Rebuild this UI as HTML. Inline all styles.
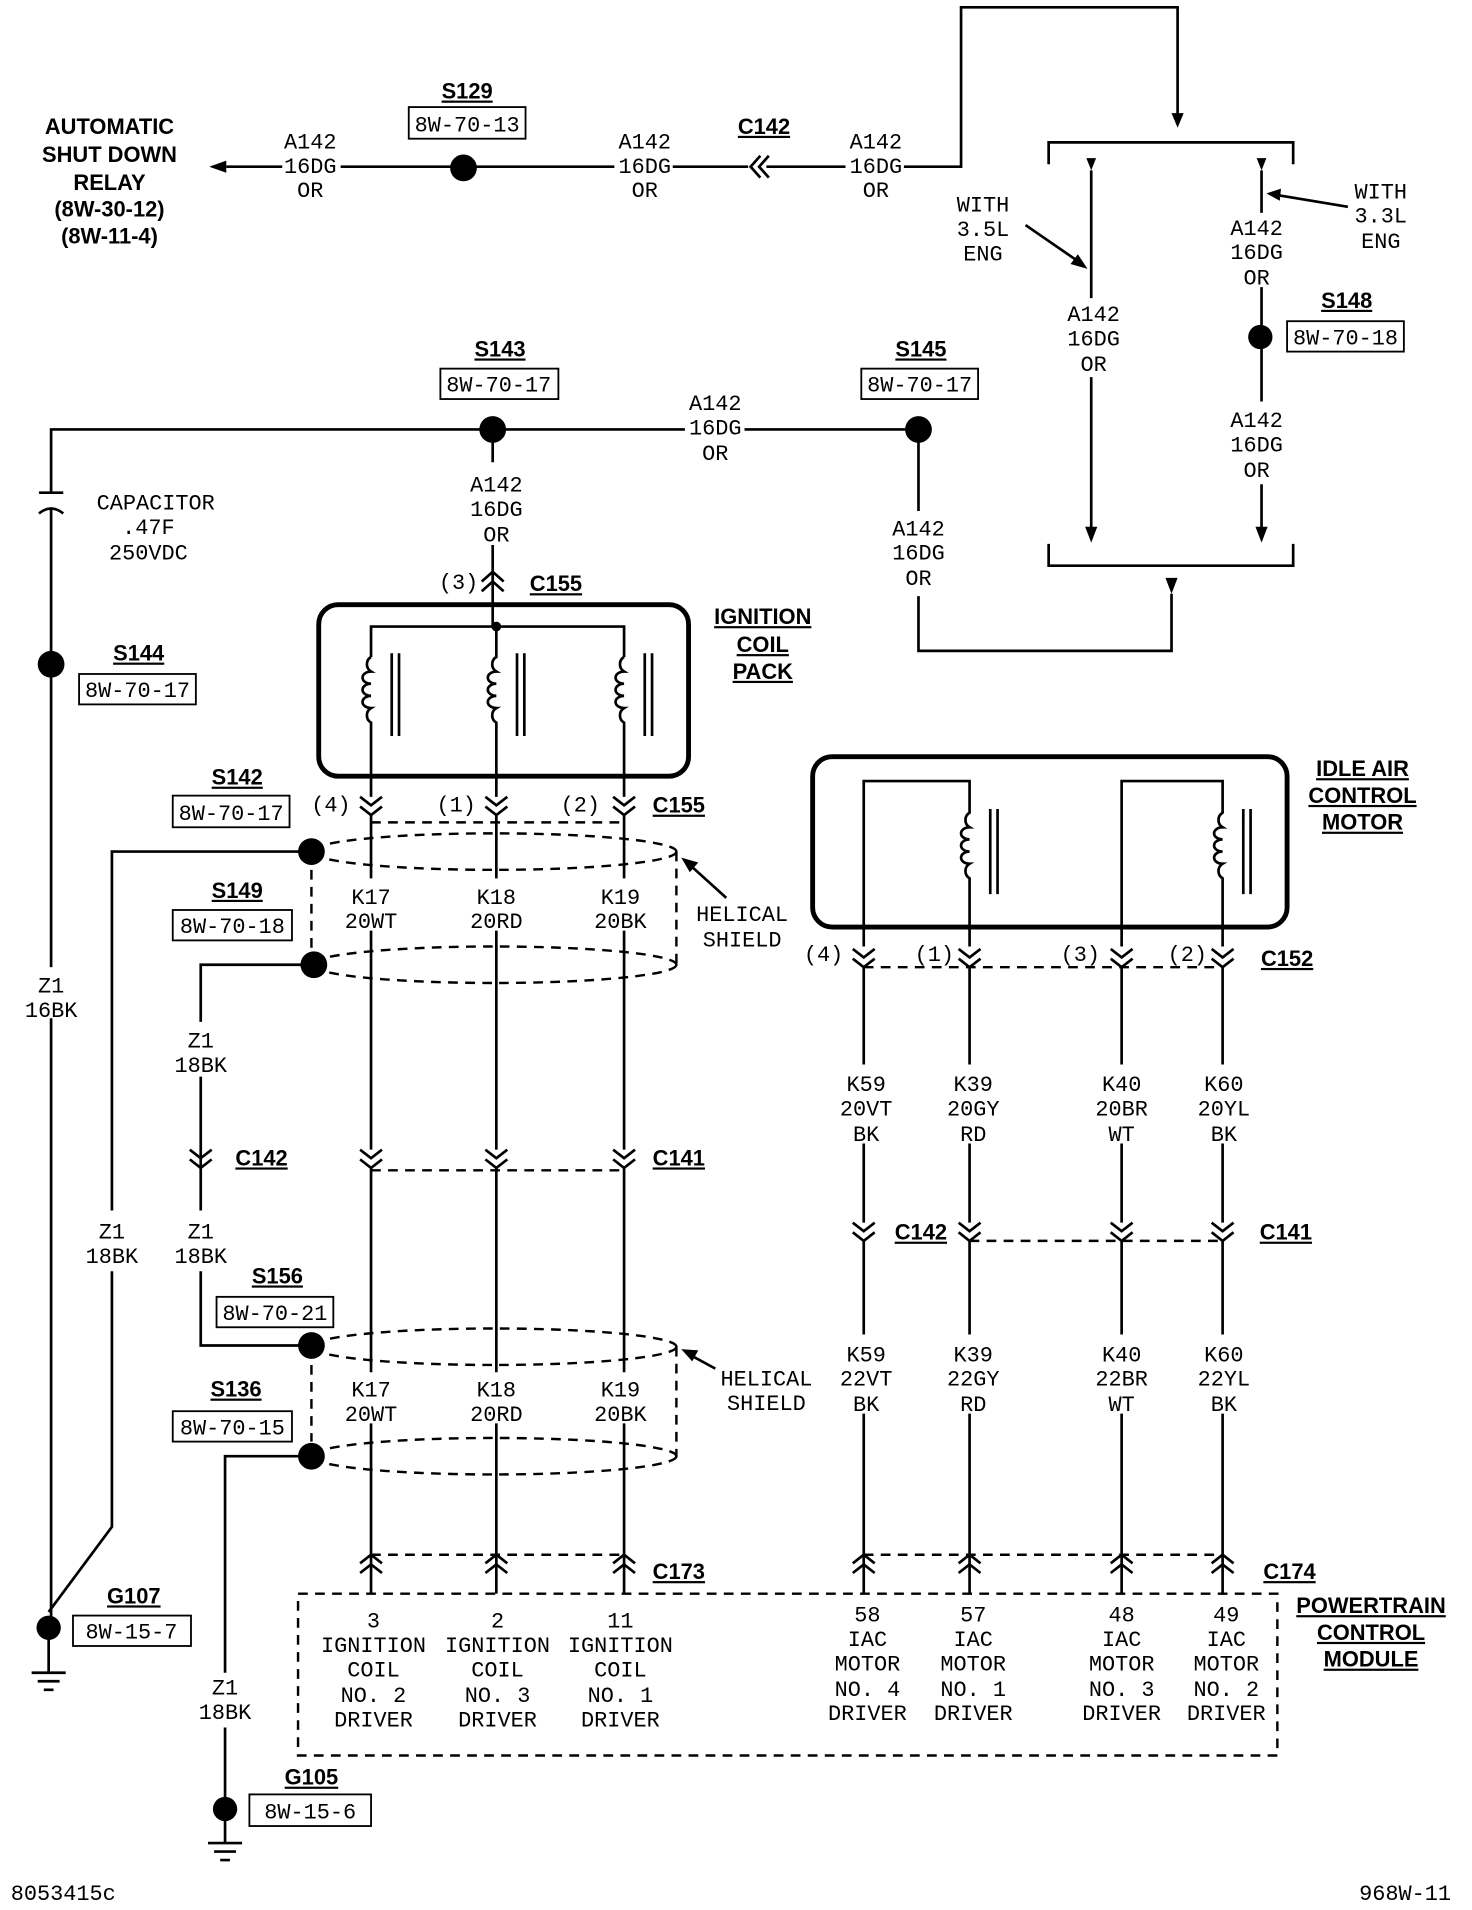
<!DOCTYPE html>
<html><head><meta charset="utf-8"><style>
html,body{margin:0;padding:0;background:#fff;}
svg{display:block;}
.t{font-family:"Liberation Mono",monospace;font-size:18px;text-anchor:middle;fill:#000;}
.b{font-family:"Liberation Sans",sans-serif;font-weight:bold;font-size:18px;text-anchor:middle;fill:#000;text-decoration:underline;}
.bn{font-family:"Liberation Sans",sans-serif;font-weight:bold;font-size:18px;text-anchor:middle;fill:#000;}
.w{stroke:#000;stroke-width:2.2;fill:none;}
.d{stroke:#000;stroke-width:2;fill:none;stroke-dasharray:8 6;}
.bx{stroke:#000;stroke-width:1.5;fill:#fff;}
</style></head><body>
<svg width="1472" height="1910" viewBox="0 0 1210 1570" xmlns="http://www.w3.org/2000/svg">
<rect width="1210" height="1570" fill="#fff"/>

<text class="bn" x="90" y="110">AUTOMATIC</text>
<text class="bn" x="90" y="133">SHUT DOWN</text>
<text class="bn" x="90" y="156">RELAY</text>
<text class="bn" x="90" y="178">(8W-30-12)</text>
<text class="bn" x="90" y="200">(8W-11-4)</text>
<polygon points="172,137 186,132 186,142" fill="#000"/>
<path class="w" d="M186,137 H232 M280,137 H505 M553,137 H615 M630,137 H695 M743,137 H790 V6 H968 V95"/>
<polygon points="963,93 973,93 968,105" fill="#000"/>
<circle cx="381" cy="138" r="11"/>
<text class="b" x="384" y="81">S129</text>
<rect class="bx" x="336" y="88" width="96" height="26"/>
<text class="t" x="384" y="108">8W-70-13</text>
<text class="t" x="255" y="122">A142</text><text class="t" x="255" y="142">16DG</text><text class="t" x="255" y="162">OR</text>
<text class="t" x="530" y="122">A142</text><text class="t" x="530" y="142">16DG</text><text class="t" x="530" y="162">OR</text>
<text class="t" x="720" y="122">A142</text><text class="t" x="720" y="142">16DG</text><text class="t" x="720" y="162">OR</text>
<path class="w" d="M625,128 L617,137 L625,146 M632,128 L624,137 L632,146"/>
<text class="b" x="628" y="110">C142</text>

<path class="w" d="M862,135 V117 H1063 V135"/>
<polygon points="893,130 901,130 897,140" fill="#000"/>
<polygon points="1033,130 1041,130 1037,140" fill="#000"/>
<path class="w" d="M897,140 V245 M897,310 V435 M1037,140 V175 M1037,236 V330 M1037,398 V435"/>
<polygon points="892,433 902,433 897,446" fill="#000"/>
<polygon points="1032,433 1042,433 1037,446" fill="#000"/>
<text class="t" x="899" y="264">A142</text><text class="t" x="899" y="284">16DG</text><text class="t" x="899" y="305">OR</text>
<text class="t" x="1033" y="193">A142</text><text class="t" x="1033" y="213">16DG</text><text class="t" x="1033" y="234">OR</text>
<text class="t" x="1033" y="351">A142</text><text class="t" x="1033" y="371">16DG</text><text class="t" x="1033" y="392">OR</text>
<circle cx="1036" cy="277" r="10"/>
<text class="b" x="1107" y="253">S148</text>
<rect class="bx" x="1058" y="264" width="96" height="25"/>
<text class="t" x="1106" y="283">8W-70-18</text>
<text class="t" x="808" y="174">WITH</text><text class="t" x="808" y="194">3.5L</text><text class="t" x="808" y="214">ENG</text>
<path class="w" d="M843,185 L888,216"/><polygon points="894,221 880,217 886,209" fill="#000"/>
<text class="t" x="1135" y="163">WITH</text><text class="t" x="1135" y="183">3.3L</text><text class="t" x="1135" y="204">ENG</text>
<path class="w" d="M1108,170 L1048,160"/><polygon points="1041,159 1053,155 1052,165" fill="#000"/>
<path class="w" d="M862,447 V465 H1063 V447"/>
<polygon points="958,475 968,475 963,488" fill="#000"/>
<path class="w" d="M963,488 V535 H755 V490 M755,420 V353"/>
<text class="t" x="755" y="440">A142</text><text class="t" x="755" y="460">16DG</text><text class="t" x="755" y="481">OR</text>

<path class="w" d="M42,405 V353 H563 M612,353 H755"/>
<text class="t" x="588" y="337">A142</text><text class="t" x="588" y="357">16DG</text><text class="t" x="588" y="378">OR</text>
<circle cx="405" cy="353" r="11"/>
<circle cx="755" cy="353" r="11"/>
<text class="b" x="411" y="293">S143</text>
<rect class="bx" x="362" y="303" width="97" height="25"/>
<text class="t" x="410" y="322">8W-70-17</text>
<text class="b" x="757" y="293">S145</text>
<rect class="bx" x="708" y="303" width="96" height="25"/>
<text class="t" x="756" y="322">8W-70-17</text>
<path class="w" d="M405,353 V380 M405,448 V515"/>
<text class="t" x="408" y="404">A142</text><text class="t" x="408" y="424">16DG</text><text class="t" x="408" y="445">OR</text>
<path class="w" d="M396,478 L405,470 L414,478 M396,486 L405,478 L414,486"/>
<text class="t" x="377" y="484">(3)</text>
<text class="b" x="457" y="486">C155</text>

<path class="w" d="M32,405 H52"/>
<path class="w" d="M32,422 Q42,414 52,422"/>
<path class="w" d="M42,418 V1338"/>
<text class="t" x="128" y="419">CAPACITOR</text>
<text class="t" x="122" y="439">.47F</text>
<text class="t" x="122" y="460">250VDC</text>
<circle cx="42" cy="546" r="11"/>
<text class="b" x="114" y="543">S144</text>
<rect class="bx" x="65" y="554" width="96" height="25"/>
<text class="t" x="113" y="573">8W-70-17</text>
<rect x="30" y="795" width="24" height="42" fill="#fff"/>
<text class="t" x="42" y="816">Z1</text><text class="t" x="42" y="836">16BK</text>
<circle cx="40" cy="1338" r="10"/>
<text class="b" x="110" y="1318">G107</text>
<rect class="bx" x="60" y="1328" width="97" height="25"/>
<text class="t" x="108" y="1347">8W-15-7</text>
<path class="w" d="M40,1338 V1375 M26,1375 H54 M31,1382 H49 M36,1389 H44"/>
<path class="w" d="M40,1325 L92,1255 V1045 M92,995 V700 H256"/>
<text class="t" x="92" y="1018">Z1</text><text class="t" x="92" y="1038">18BK</text>

<text class="b" x="195" y="645">S142</text>
<rect class="bx" x="142" y="654" width="96" height="26"/>
<text class="t" x="190" y="674">8W-70-17</text>
<circle cx="256" cy="700" r="11"/>
<text class="b" x="195" y="738">S149</text>
<rect class="bx" x="142" y="748" width="98" height="25"/>
<text class="t" x="191" y="767">8W-70-18</text>
<circle cx="258" cy="793" r="11"/>
<path class="w" d="M258,793 H165 V840 M165,885 V995 M165,1045 V1106 H256"/>
<text class="t" x="165" y="861">Z1</text><text class="t" x="165" y="881">18BK</text>
<path class="w" d="M156,945 L165,952 L174,945 M156,953 L165,960 L174,953"/>
<text class="b" x="215" y="958">C142</text>
<text class="t" x="165" y="1018">Z1</text><text class="t" x="165" y="1038">18BK</text>
<circle cx="256" cy="1106" r="11"/>
<text class="b" x="228" y="1055">S156</text>
<rect class="bx" x="178" y="1066" width="96" height="25"/>
<text class="t" x="226" y="1085">8W-70-21</text>
<text class="b" x="194" y="1148">S136</text>
<rect class="bx" x="142" y="1160" width="98" height="25"/>
<text class="t" x="191" y="1179">8W-70-15</text>
<circle cx="256" cy="1197" r="11"/>
<path class="w" d="M256,1197 H185 V1375 M185,1420 V1515"/>
<text class="t" x="185" y="1393">Z1</text><text class="t" x="185" y="1413">18BK</text>
<circle cx="185" cy="1487" r="10"/>
<text class="b" x="256" y="1467">G105</text>
<rect class="bx" x="205" y="1475" width="100" height="26"/>
<text class="t" x="255" y="1495">8W-15-6</text>
<path class="w" d="M171,1515 H199 M176,1522 H194 M181,1529 H189"/>

<rect x="262" y="497" width="304" height="141" rx="16" ry="16" fill="none" stroke="#000" stroke-width="4"/>
<text class="b" x="627" y="513">IGNITION</text>
<text class="b" x="627" y="536">COIL</text>
<text class="b" x="627" y="558">PACK</text>
<path class="w" d="M305,540 V515 H513 V540"/>
<circle cx="408" cy="515" r="4"/>
<path class="w" d="M305,540 a7,7 0 0 0 0,12 a7,5 0 0 0 0,10 a7,5 0 0 0 0,10 a7,5 0 0 0 0,10 a7,7 0 0 0 0,12 V655 M322,537 V605 M328,537 V605"/>
<path class="w" d="M408,515 V540 a7,7 0 0 0 0,12 a7,5 0 0 0 0,10 a7,5 0 0 0 0,10 a7,5 0 0 0 0,10 a7,7 0 0 0 0,12 V655 M425,537 V605 M431,537 V605"/>
<path class="w" d="M513,540 a7,7 0 0 0 0,12 a7,5 0 0 0 0,10 a7,5 0 0 0 0,10 a7,5 0 0 0 0,10 a7,7 0 0 0 0,12 V655 M530,537 V605 M536,537 V605"/>
<path class="w" d="M296,655 L305,662 L314,655 M296,663 L305,670 L314,663 M399,655 L408,662 L417,655 M399,663 L408,670 L417,663 M504,655 L513,662 L522,655 M504,663 L513,670 L522,663"/>
<text class="t" x="272" y="667">(4)</text><text class="t" x="375" y="667">(1)</text><text class="t" x="477" y="667">(2)</text>
<text class="b" x="558" y="668">C155</text>
<path class="d" d="M305,676 H513"/>
<ellipse class="d" cx="406" cy="700" rx="150" ry="15"/>
<ellipse class="d" cx="406" cy="793" rx="150" ry="15"/>
<path class="d" d="M256,715 V780 M556,700 V793"/>
<path class="w" d="M305,670 V722 M305,765 V945 M408,670 V722 M408,765 V945 M513,670 V722 M513,765 V945"/>
<text class="t" x="305" y="743">K17</text><text class="t" x="305" y="763">20WT</text>
<text class="t" x="408" y="743">K18</text><text class="t" x="408" y="763">20RD</text>
<text class="t" x="510" y="743">K19</text><text class="t" x="510" y="763">20BK</text>
<text class="t" x="610" y="757">HELICAL</text><text class="t" x="610" y="778">SHIELD</text>
<path class="w" d="M597,738 L566,710"/><polygon points="560,705 574,709 567,717" fill="#000"/>
<path class="w" d="M296,945 L305,952 L314,945 M296,953 L305,960 L314,953 M399,945 L408,952 L417,945 M399,953 L408,960 L417,953 M504,945 L513,952 L522,945 M504,953 L513,960 L522,953"/>
<path class="d" d="M305,962 H513"/>
<text class="b" x="558" y="958">C141</text>
<path class="w" d="M305,960 V1128 M305,1170 V1310 M408,960 V1128 M408,1170 V1310 M513,960 V1128 M513,1170 V1310"/>
<ellipse class="d" cx="406" cy="1107" rx="150" ry="15"/>
<ellipse class="d" cx="406" cy="1197" rx="150" ry="15"/>
<path class="d" d="M256,1122 V1185 M556,1107 V1197"/>
<text class="t" x="305" y="1148">K17</text><text class="t" x="305" y="1168">20WT</text>
<text class="t" x="408" y="1148">K18</text><text class="t" x="408" y="1168">20RD</text>
<text class="t" x="510" y="1148">K19</text><text class="t" x="510" y="1168">20BK</text>
<text class="t" x="630" y="1139">HELICAL</text><text class="t" x="630" y="1159">SHIELD</text>
<path class="w" d="M588,1125 L566,1113"/><polygon points="560,1109 574,1110 569,1119" fill="#000"/>
<path class="w" d="M296,1285 L305,1278 L314,1285 M296,1293 L305,1286 L314,1293 M399,1285 L408,1278 L417,1285 M399,1293 L408,1286 L417,1293 M504,1285 L513,1278 L522,1285 M504,1293 L513,1286 L522,1293"/>
<path class="d" d="M305,1278 H513"/>
<text class="b" x="558" y="1298">C173</text>

<rect x="668" y="622" width="390" height="140" rx="16" ry="16" fill="none" stroke="#000" stroke-width="4"/>
<text class="b" x="1120" y="638">IDLE AIR</text>
<text class="b" x="1120" y="660">CONTROL</text>
<text class="b" x="1120" y="682">MOTOR</text>
<path class="w" d="M710,778 V642 H797 V668 a7,7 0 0 0 0,12 a7,5 0 0 0 0,10 a7,5 0 0 0 0,10 a7,5 0 0 0 0,10 a7,7 0 0 0 0,12 V778 M814,665 V735 M820,665 V735"/>
<path class="w" d="M922,778 V642 H1005 V668 a7,7 0 0 0 0,12 a7,5 0 0 0 0,10 a7,5 0 0 0 0,10 a7,5 0 0 0 0,10 a7,7 0 0 0 0,12 V778 M1022,665 V735 M1028,665 V735"/>
<path class="w" d="M701,780 L710,787 L719,780 M701,788 L710,795 L719,788 M788,780 L797,787 L806,780 M788,788 L797,795 L806,788 M913,780 L922,787 L931,780 M913,788 L922,795 L931,788 M996,780 L1005,787 L1014,780 M996,788 L1005,795 L1014,788"/>
<path class="d" d="M710,795 H1005"/>
<text class="t" x="677" y="790">(4)</text><text class="t" x="768" y="790">(1)</text><text class="t" x="888" y="790">(3)</text><text class="t" x="976" y="790">(2)</text>
<text class="b" x="1058" y="794">C152</text>
<path class="w" d="M710,795 V875 M710,940 V1005 M797,795 V875 M797,940 V1005 M922,795 V875 M922,940 V1005 M1005,795 V875 M1005,940 V1005"/>
<text class="t" x="712" y="897">K59</text><text class="t" x="712" y="917">20VT</text><text class="t" x="712" y="938">BK</text>
<text class="t" x="800" y="897">K39</text><text class="t" x="800" y="917">20GY</text><text class="t" x="800" y="938">RD</text>
<text class="t" x="922" y="897">K40</text><text class="t" x="922" y="917">20BR</text><text class="t" x="922" y="938">WT</text>
<text class="t" x="1006" y="897">K60</text><text class="t" x="1006" y="917">20YL</text><text class="t" x="1006" y="938">BK</text>
<path class="w" d="M701,1005 L710,1012 L719,1005 M701,1013 L710,1020 L719,1013 M788,1005 L797,1012 L806,1005 M788,1013 L797,1020 L806,1013 M913,1005 L922,1012 L931,1005 M913,1013 L922,1020 L931,1013 M996,1005 L1005,1012 L1014,1005 M996,1013 L1005,1020 L1014,1013"/>
<path class="d" d="M797,1020 H1005"/>
<text class="b" x="757" y="1019">C142</text>
<text class="b" x="1057" y="1019">C141</text>
<path class="w" d="M710,1020 V1097 M710,1162 V1310 M797,1020 V1097 M797,1162 V1310 M922,1020 V1097 M922,1162 V1310 M1005,1020 V1097 M1005,1162 V1310"/>
<text class="t" x="712" y="1119">K59</text><text class="t" x="712" y="1139">22VT</text><text class="t" x="712" y="1160">BK</text>
<text class="t" x="800" y="1119">K39</text><text class="t" x="800" y="1139">22GY</text><text class="t" x="800" y="1160">RD</text>
<text class="t" x="922" y="1119">K40</text><text class="t" x="922" y="1139">22BR</text><text class="t" x="922" y="1160">WT</text>
<text class="t" x="1006" y="1119">K60</text><text class="t" x="1006" y="1139">22YL</text><text class="t" x="1006" y="1160">BK</text>
<path class="w" d="M701,1285 L710,1278 L719,1285 M701,1293 L710,1286 L719,1293 M788,1285 L797,1278 L806,1285 M788,1293 L797,1286 L806,1293 M913,1285 L922,1278 L931,1285 M913,1293 L922,1286 L931,1293 M996,1285 L1005,1278 L1014,1285 M996,1293 L1005,1286 L1014,1293"/>
<path class="d" d="M710,1278 H1005"/>
<text class="b" x="1060" y="1298">C174</text>

<rect class="d" x="245" y="1310" width="805" height="133"/>
<text class="b" x="1127" y="1326">POWERTRAIN</text>
<text class="b" x="1127" y="1348">CONTROL</text>
<text class="b" x="1127" y="1370">MODULE</text>
<g class="t">
<text x="307" y="1338">3</text><text x="307" y="1358">IGNITION</text><text x="307" y="1378">COIL</text><text x="307" y="1399">NO. 2</text><text x="307" y="1419">DRIVER</text>
<text x="409" y="1338">2</text><text x="409" y="1358">IGNITION</text><text x="409" y="1378">COIL</text><text x="409" y="1399">NO. 3</text><text x="409" y="1419">DRIVER</text>
<text x="510" y="1338">11</text><text x="510" y="1358">IGNITION</text><text x="510" y="1378">COIL</text><text x="510" y="1399">NO. 1</text><text x="510" y="1419">DRIVER</text>
<text x="713" y="1333">58</text><text x="713" y="1353">IAC</text><text x="713" y="1373">MOTOR</text><text x="713" y="1394">NO. 4</text><text x="713" y="1414">DRIVER</text>
<text x="800" y="1333">57</text><text x="800" y="1353">IAC</text><text x="800" y="1373">MOTOR</text><text x="800" y="1394">NO. 1</text><text x="800" y="1414">DRIVER</text>
<text x="922" y="1333">48</text><text x="922" y="1353">IAC</text><text x="922" y="1373">MOTOR</text><text x="922" y="1394">NO. 3</text><text x="922" y="1414">DRIVER</text>
<text x="1008" y="1333">49</text><text x="1008" y="1353">IAC</text><text x="1008" y="1373">MOTOR</text><text x="1008" y="1394">NO. 2</text><text x="1008" y="1414">DRIVER</text>
</g>
<text class="t" x="52" y="1562">8053415c</text>
<text class="t" x="1155" y="1562">968W-11</text>
</svg>
</body></html>
